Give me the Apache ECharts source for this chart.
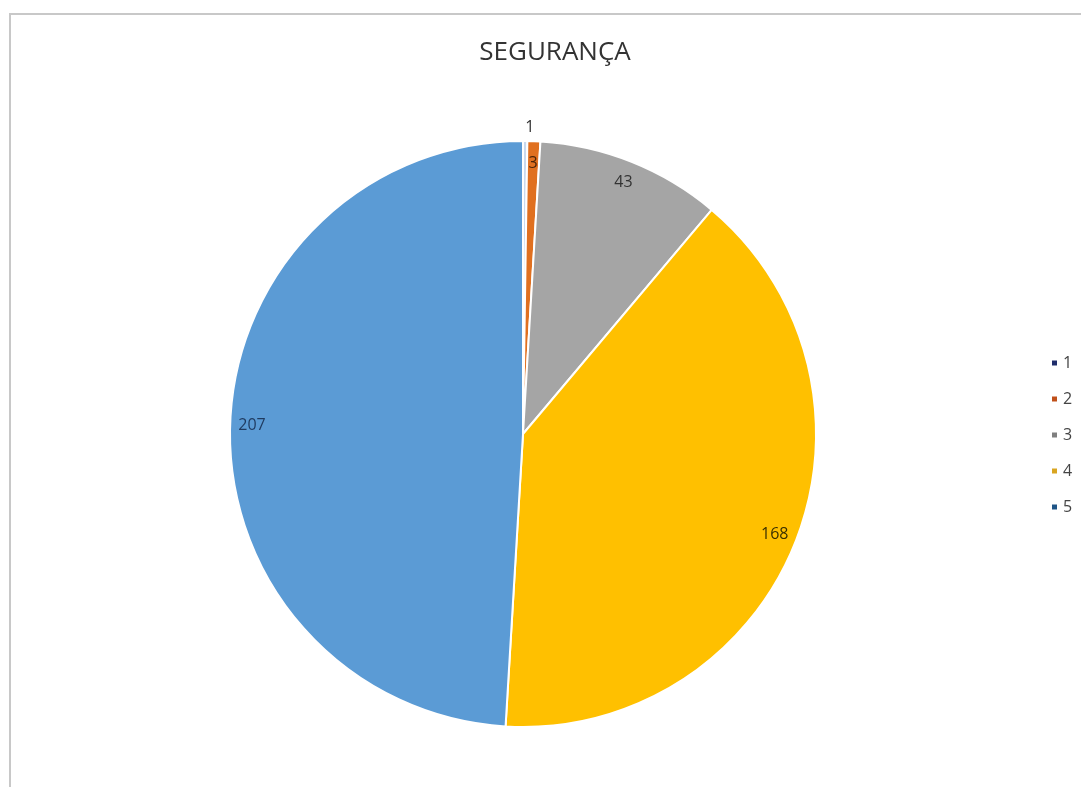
<!DOCTYPE html>
<html>
<head>
<meta charset="utf-8">
<script src="https://cdn.jsdelivr.net/npm/echarts@6/dist/echarts.min.js"></script>
<style>
  html, body { margin: 0; padding: 0; background: #fff; }
  #frame {
    position: absolute; left: 9px; top: 13px; width: 1100px; height: 800px;
    border-top: 2px solid #c8c8c8; border-left: 2px solid #c8c8c8;
  }
  #pie { position: absolute; left: 0; top: 0; width: 1081px; height: 787px; }
</style>
</head>
<body>
<div id="frame"></div>
<div id="pie"></div>
<script>
var categories = ['1', '2', '3', '4', '5'];
var values = [1, 3, 43, 168, 207];
var sliceColors = ['#c9d9ee', '#e07020', '#a5a5a5', '#ffc000', '#5b9bd5'];
var legendColors = ['#1f2d6b', '#c0501a', '#7f7f7f', '#d9a520', '#1f5587'];
var labelColors = ['#333333', '#4a2408', '#333333', '#3a3000', '#1f3a5f'];

var R = 293;

var chart = echarts.init(document.getElementById('pie'));

var option = {
    backgroundColor: 'transparent',
    animation: false,
    title: {
        text: 'SEGURANÇA',
        left: 550,
        textAlign: 'center',
        top: 35,
        textStyle: {
            fontFamily: 'Open Sans',
            fontSize: 26,
            fontWeight: 'normal',
            color: '#333'
        }
    },
    legend: {
        orient: 'vertical',
        left: 1045,
        top: 350,
        itemWidth: 7,
        itemHeight: 7,
        itemGap: 20,
        icon: 'rect',
        textStyle: { fontFamily: 'Open Sans', fontSize: 16, color: '#444' },
        data: categories.map(function (c, i) {
            return { name: c, itemStyle: { color: legendColors[i] } };
        })
    },
    series: [
        {
            type: 'pie',
            center: [523, 434],
            radius: [0, R],
            startAngle: 90,
            clockwise: true,
            itemStyle: { borderColor: '#fff', borderWidth: 2 },
            label: { show: false },
            labelLine: { show: false },
            data: categories.map(function (c, i) {
                var d = { name: c, value: values[i], itemStyle: { color: sliceColors[i] } };
                if (i === 0) {
                    d.label = {
                        show: true, position: 'outside', distanceToLabelLine: 0,
                        formatter: '{c}', fontFamily: 'Open Sans', fontSize: 16, color: labelColors[0]
                    };
                    d.labelLine = { show: false, length: 14, length2: 0 };
                }
                return d;
            })
        },
        {
            type: 'pie',
            silent: true,
            center: [523, 434],
            radius: [R * 0.83, R],
            startAngle: 90,
            clockwise: true,
            itemStyle: { color: 'transparent' },
            label: {
                show: true,
                position: 'inside',
                formatter: '{c}',
                fontFamily: 'Open Sans',
                fontSize: 16
            },
            labelLine: { show: false },
            data: categories.map(function (c, i) {
                return {
                    name: c, value: values[i],
                    label: { show: i > 0, color: labelColors[i] }
                };
            })
        }
    ]
};

chart.setOption(option);
</script>
</body>
</html>
